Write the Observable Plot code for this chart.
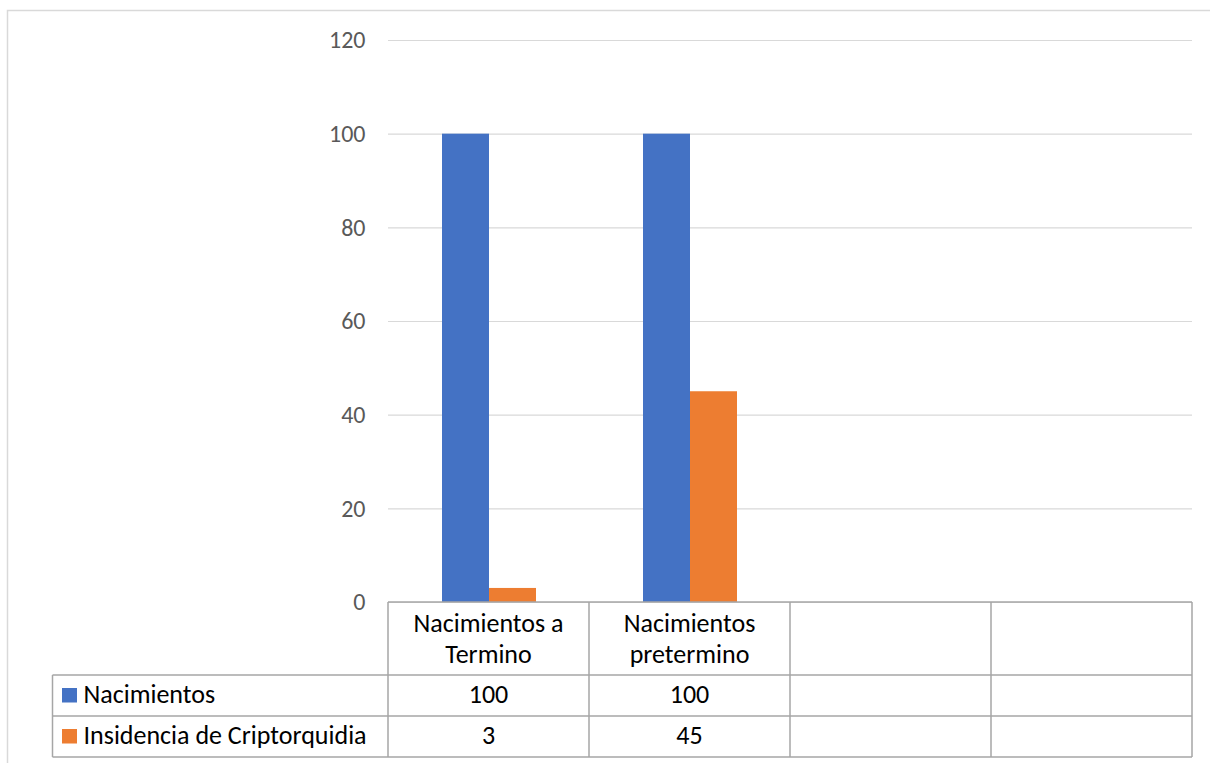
<!DOCTYPE html>
<html>
<head>
<meta charset="utf-8">
<script src="https://cdn.jsdelivr.net/npm/d3@7"></script>
<script src="https://cdn.jsdelivr.net/npm/@observablehq/plot@0.6"></script>
<style>
  html, body { margin: 0; padding: 0; background: #fff; }
  #chart svg { display: block; }
</style>
</head>
<body>
<div id="chart"></div>
<script>
// Categories (the last two columns of the data table are empty)
const categories = ["Nacimientos a Termino", "Nacimientos pretermino", "", ""];
const series = ["Nacimientos", "Insidencia de Criptorquidia"];
const nacimientos = [100, 100, null, null];
const insidencia = [3, 45, null, null];
const colors = ["#4472C4", "#ED7D31"];
const yTicks = [0, 20, 40, 60, 80, 100, 120];

const seriesValues = [nacimientos, insidencia];
const catIndex = d3.range(categories.length);

const bars = catIndex.flatMap(i =>
  series.map((s, j) => ({cat: i, series: s, value: seriesValues[j][i]}))
).filter(d => d.value != null);

// gridlines repeated in every category column so every facet is drawn
const grid = catIndex.flatMap(i => yTicks.map(t => ({cat: i, t})));

const W = 1210, H = 763;
const font = "Carlito, Calibri, Lato, sans-serif";

const plot = Plot.plot({
  width: W,
  height: H,
  marginLeft: 387,
  marginRight: 17,
  marginTop: 40,
  marginBottom: 161,
  style: {fontFamily: font, fontSize: "24px", color: "#595959", background: "#fff"},
  fx: {domain: catIndex, padding: 0, axis: null},
  x: {domain: series, paddingInner: 0, paddingOuter: 1.1, axis: null},
  y: {domain: [0, 120], ticks: yTicks, tickSize: 0, tickPadding: 23, label: null, grid: false},
  color: {domain: series, range: colors},
  marks: [
    Plot.ruleY(grid, {fx: "cat", y: "t", stroke: "#d9d9d9", strokeWidth: 1.2, strokeOpacity: 1}),
    Plot.barY(bars, {fx: "cat", x: "series", y: "value", fill: "series"})
  ]
});

document.getElementById("chart").appendChild(plot);

// Data table under the plot, aligned on the facet columns
const svg = d3.select(plot);
const fx = plot.scale("fx");
const ys = plot.scale("y");
const step = fx.bandwidth;
const colLeft = i => fx.apply(i);
const tableTop = ys.apply(0);
const headerH = 73, rowH = 41;
const legendLeft = 52.5;
const tableLeft = colLeft(0);
const tableRight = colLeft(categories.length - 1) + step;
const lineColor = "#a6a6a6";
const tableFont = 26;

const g = svg.append("g").attr("font-family", font).attr("fill", "#000");

// header cells
const wrap = (s, max) => {
  const lines = [];
  let cur = "";
  for (const w of s.split(" ").filter(Boolean)) {
    if (cur && (cur + " " + w).length > max) { lines.push(cur); cur = w; }
    else cur = cur ? cur + " " + w : w;
  }
  if (cur) lines.push(cur);
  return lines;
};

categories.forEach((c, i) => {
  const cx = colLeft(i) + step / 2;
  const lines = wrap(c, 14);
  const t = g.append("text").attr("text-anchor", "middle").attr("font-size", tableFont);
  lines.forEach((ln, k) => {
    t.append("tspan").attr("x", cx).attr("y", tableTop + 30 + k * 31).text(ln);
  });
});

// data rows
series.forEach((s, j) => {
  const rowTop = tableTop + headerH + j * rowH;
  const baseline = rowTop + 27.5;
  g.append("rect")
    .attr("x", legendLeft + 9.5).attr("y", rowTop + 13)
    .attr("width", 15).attr("height", 14.5)
    .attr("fill", colors[j]);
  g.append("text").attr("x", legendLeft + 31).attr("y", baseline)
    .attr("text-anchor", "start").attr("font-size", tableFont).text(s);
  categories.forEach((c, i) => {
    const v = seriesValues[j][i];
    if (v == null) return;
    g.append("text").attr("x", colLeft(i) + step / 2).attr("y", baseline)
      .attr("text-anchor", "middle").attr("font-size", tableFont).text(v);
  });
});

// table grid lines
const lines = svg.append("g").attr("stroke", lineColor).attr("stroke-width", 1.5).attr("fill", "none");
const bottom = tableTop + headerH + 2 * rowH;
lines.append("line").attr("x1", tableLeft).attr("x2", tableRight).attr("y1", tableTop).attr("y2", tableTop);
[tableTop + headerH, tableTop + headerH + rowH, bottom].forEach(yv => {
  lines.append("line").attr("x1", legendLeft).attr("x2", tableRight).attr("y1", yv).attr("y2", yv);
});
lines.append("line").attr("x1", legendLeft).attr("x2", legendLeft).attr("y1", tableTop + headerH).attr("y2", bottom);
for (let i = 0; i <= categories.length; i++) {
  const xv = i < categories.length ? colLeft(i) : tableRight;
  lines.append("line").attr("x1", xv).attr("x2", xv).attr("y1", tableTop).attr("y2", bottom);
}

// chart area border
svg.append("rect")
  .attr("x", 7.5).attr("y", 10.5)
  .attr("width", W + 20).attr("height", H + 20)
  .attr("fill", "none").attr("stroke", "#d9d9d9").attr("stroke-width", 1.5);
</script>
</body>
</html>
